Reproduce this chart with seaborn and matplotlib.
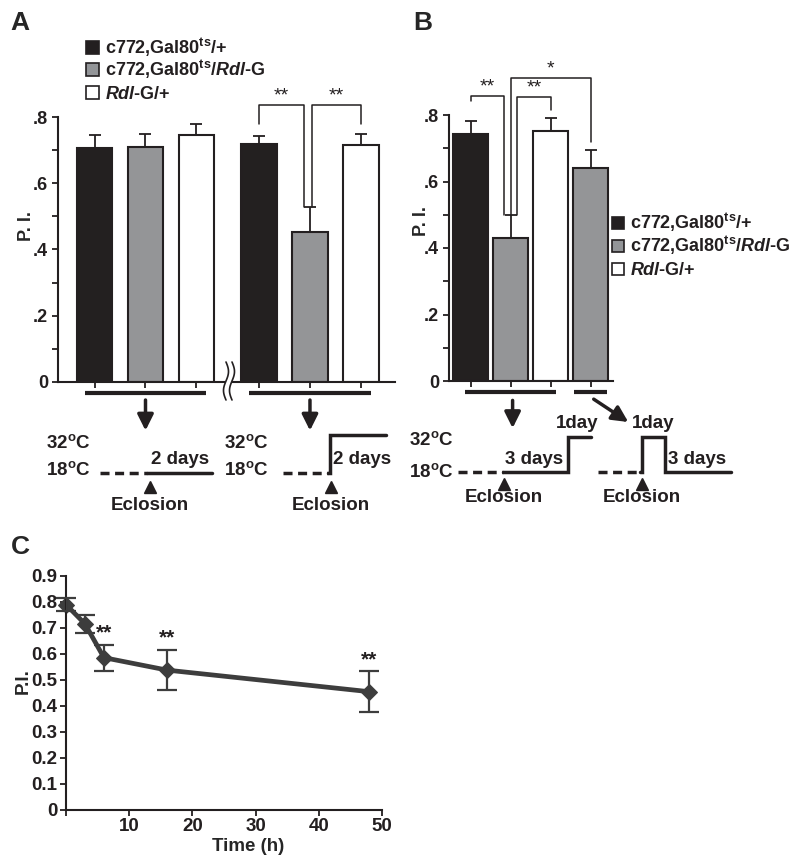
import numpy as np
import pandas as pd
import matplotlib
matplotlib.use("Agg")
import matplotlib.pyplot as plt
from matplotlib.patches import Rectangle
import seaborn as sns

# ---- data ----
genotypes = ["c772,Gal80ts/+", "c772,Gal80ts/Rdl-G", "Rdl-G/+"]
genotype_labels = [r"c772,Gal80$^{\mathrm{ts}}$/+",
                   r"c772,Gal80$^{\mathrm{ts}}$/$\mathit{Rdl}$-G",
                   r"$\mathit{Rdl}$-G/+"]

# panel A: 18C throughout vs shift to 32C for 2 days after eclosion
a_conditions = ["18C", "32C 2 days"]
a_pi = [0.705, 0.708, 0.745, 0.720, 0.454, 0.715]
a_sem = [0.042, 0.040, 0.035, 0.022, 0.073, 0.033]

# panel B: 3 days at 18C then 1 day 32C / 1 day 32C then 3 days 18C
b_labels = ["3d+1d ctrl", "3d+1d exp", "3d+1d rdl", "1d+3d exp"]
b_genotype = [genotypes[0], genotypes[1], genotypes[2], genotypes[1]]
b_pi = [0.743, 0.430, 0.752, 0.640]
b_sem = [0.039, 0.070, 0.039, 0.055]

# panel C: time course
c_time = [0, 3, 6, 16, 48]
c_pi = [0.790, 0.716, 0.586, 0.538, 0.455]
c_sem = [0.025, 0.035, 0.050, 0.078, 0.078]
c_sig = ["", "", "**", "**", "**"]

EDGE = "#231f20"
bar_colors = ["#231f20", "#939598", "#ffffff"]
LINE = "#3d3d3d"

sns.set_style("ticks")
plt.rcParams["font.family"] = ["Liberation Sans", "DejaVu Sans"]
plt.rcParams["font.weight"] = "bold"
plt.rcParams["mathtext.fontset"] = "custom"
plt.rcParams["mathtext.rm"] = "Liberation Sans:bold"
plt.rcParams["mathtext.it"] = "Liberation Sans:bold:italic"
plt.rcParams["mathtext.bf"] = "Liberation Sans:bold"
plt.rcParams["axes.edgecolor"] = EDGE
plt.rcParams["axes.linewidth"] = 1.5
plt.rcParams["xtick.color"] = EDGE
plt.rcParams["ytick.color"] = EDGE

W, H = 800, 860
fig = plt.figure(figsize=(W / 100, H / 100), dpi=100)


def axes_px(left, right, top, bottom):
    return fig.add_axes([left / W, 1 - bottom / H, (right - left) / W, (bottom - top) / H])


def style_bar_axes(ax, centers):
    sns.despine(ax=ax)
    ax.set_xticks(sorted(centers))
    ax.set_xticklabels([])
    ax.set_yticks([0, 0.2, 0.4, 0.6, 0.8], ["0", ".2", ".4", ".6", ".8"])
    ax.set_yticks([0.1, 0.3, 0.5, 0.7], minor=True)
    ax.tick_params(axis="both", which="both", length=4, width=1.3, labelsize=13, pad=3)
    ax.set_xlabel("")
    ax.set_ylabel("P. I.", fontsize=13, fontweight="bold")
    ax.set_ylim(0, 0.8)


def bracket(ax, x1, x2, top, y1, y2, text):
    ax.plot([x1, x1, x2, x2], [y1, top, top, y2], color=EDGE, lw=1.1, clip_on=False)
    ax.text((x1 + x2) / 2, top + 0.003, text, ha="center", va="bottom",
            fontsize=14, fontweight="normal", color=EDGE)


# ---------------- panel A ----------------
axA = axes_px(58, 395, 117, 382)
dfA = pd.DataFrame({"condition": np.repeat(a_conditions, 3),
                    "genotype": genotypes * 2, "pi": a_pi, "err": a_sem})
sns.barplot(data=dfA, x="condition", y="pi", hue="genotype", hue_order=genotypes,
            palette=bar_colors, width=0.93, gap=0.31, edgecolor=EDGE, linewidth=1.5,
            errorbar=None, legend=False, ax=axA)
centA = {}
for gi, cont in enumerate(axA.containers):
    for ci, bar in enumerate(cont):
        centA[(a_conditions[ci], genotypes[gi])] = bar.get_x() + bar.get_width() / 2
top_of = {}
for _, r in dfA.iterrows():
    key = (r["condition"], r["genotype"])
    top_of[key] = r["pi"] + r["err"]
    axA.errorbar(centA[key], r["pi"], yerr=[[0], [r["err"]]], fmt="none",
                 ecolor=EDGE, elinewidth=1.3, capsize=4, capthick=1.3, zorder=3)
axA.set_xlim(-0.532, 1.517)
style_bar_axes(axA, centA.values())
axA.yaxis.set_label_coords(-0.068, 0.59)

k4, k5, k6 = [(a_conditions[1], g) for g in genotypes]
bracket(axA, centA[k4], centA[k5] - 0.036, 0.836, top_of[k4] + 0.037, top_of[k5], "**")
bracket(axA, centA[k5] + 0.012, centA[k6], 0.836, top_of[k5], top_of[k6] + 0.03, "**")

for gx in range(len(a_conditions)):
    axA.plot([gx - 0.37, gx + 0.37], [-0.034, -0.034], color=EDGE, lw=3, clip_on=False,
             solid_capstyle="butt")
    axA.annotate("", xy=(gx, -0.155), xytext=(gx, -0.046), annotation_clip=False,
                 arrowprops=dict(arrowstyle="-|>", color=EDGE, lw=2.5, mutation_scale=24))

# ---------------- panel B ----------------
axB = axes_px(449, 613, 115, 381)
dfB = pd.DataFrame({"label": b_labels, "genotype": b_genotype, "pi": b_pi, "err": b_sem})
sns.barplot(data=dfB, x="label", y="pi", hue="genotype", hue_order=genotypes,
            palette=bar_colors, dodge=False, width=0.875, edgecolor=EDGE, linewidth=1.5,
            errorbar=None, legend=False, ax=axB)
centB = {}
for bar in axB.patches:
    c = bar.get_x() + bar.get_width() / 2
    if bar.get_height() > 0:
        centB[int(round(c))] = c
for i, r in dfB.iterrows():
    axB.errorbar(centB[i], r["pi"], yerr=[[0], [r["err"]]], fmt="none",
                 ecolor=EDGE, elinewidth=1.3, capsize=4, capthick=1.3, zorder=3)
axB.set_xlim(-0.54, 3.56)
style_bar_axes(axB, centB.values())
axB.yaxis.set_label_coords(-0.116, 0.6)

topB = [p + s for p, s in zip(b_pi, b_sem)]
bracket(axB, centB[0], centB[1] - 0.16, 0.857, topB[0] + 0.06, topB[1], "**")
bracket(axB, centB[1] + 0.16, centB[2], 0.854, topB[1], topB[2] + 0.025, "**")
bracket(axB, centB[1] + 0.01, centB[3], 0.911, topB[1], topB[3] + 0.024, "*")

axB.plot([-0.14, 2.14], [-0.033, -0.033], color=EDGE, lw=3, clip_on=False, solid_capstyle="butt")
axB.plot([2.59, 3.41], [-0.033, -0.033], color=EDGE, lw=3, clip_on=False, solid_capstyle="butt")
axB.annotate("", xy=(1.05, -0.15), xytext=(1.05, -0.05), annotation_clip=False,
             arrowprops=dict(arrowstyle="-|>", color=EDGE, lw=2.5, mutation_scale=24))
axB.annotate("", xy=(4.0, -0.128), xytext=(3.02, -0.05), annotation_clip=False,
             arrowprops=dict(arrowstyle="-|>", color=EDGE, lw=2.5, mutation_scale=24))

# ---------------- panel C ----------------
axC = axes_px(66, 382, 576, 810)
sns.lineplot(x=c_time, y=c_pi, marker="D", markersize=8.5, color=LINE, linewidth=3.4,
             markeredgecolor=LINE, ax=axC)
axC.errorbar(c_time, c_pi, yerr=c_sem, fmt="none", ecolor=LINE, elinewidth=1.6,
             capsize=7, capthick=1.6, zorder=3)
for ln in axC.lines:
    ln.set_clip_on(False)
for t, p, s, sig in zip(c_time, c_pi, c_sem, c_sig):
    if sig:
        axC.text(t, p + s + 0.008, sig, ha="center", va="bottom", fontsize=15,
                 fontweight="bold", color=EDGE)
axC.set_xlim(0, 50)
axC.set_ylim(0, 0.9)
axC.set_xticks([0, 10, 20, 30, 40, 50], ["", "10", "20", "30", "40", "50"])
axC.set_yticks(np.round(np.arange(0, 0.95, 0.1), 1),
               ["0"] + [f"{v:.1f}" for v in np.arange(0.1, 0.95, 0.1)])
axC.tick_params(axis="both", length=4, width=1.3, labelsize=13.5, pad=2)
sns.despine(ax=axC)
axC.set_xlabel("Time (h)", fontsize=13.5, fontweight="bold")
axC.set_ylabel("P.I.", fontsize=13.5, fontweight="bold")
axC.xaxis.set_label_coords(0.576, -0.118)
axC.yaxis.set_label_coords(-0.108, 0.55)

# ---------------- overlay: letters, legends, schematics ----------------
ov = fig.add_axes([0, 0, 1, 1], zorder=5)
ov.set_xlim(0, W)
ov.set_ylim(H, 0)
ov.axis("off")
ov.patch.set_alpha(0)

for letter, x, y in [("A", 20, 23), ("B", 423, 23), ("C", 20, 547)]:
    ov.text(x, y, letter, ha="center", va="center", fontsize=19, fontweight="bold")


def legend_px(x0, baselines, size):
    for lab, col, yb in zip(genotype_labels, bar_colors, baselines):
        ov.add_patch(Rectangle((x0, yb - size), size, size, facecolor=col,
                               edgecolor=EDGE, lw=1.2))
        ov.text(x0 + size + 6, yb, lab, ha="left", va="baseline", fontsize=13,
                fontweight="bold", color=EDGE)


legend_px(86, [54, 76, 99], 13)
legend_px(612, [229, 252, 275], 12)

# axis break marks in panel A
tt = np.linspace(0, 1, 30)
ov.add_patch(Rectangle((226, 379), 6, 6, facecolor="white", edgecolor="none", zorder=6))
for x0 in (226, 232):
    ov.plot(x0 + 2.5 * np.sin(tt * 2 * np.pi), 362 + 38 * tt, color=EDGE, lw=1.2, zorder=7)

TXT = dict(fontsize=13.5, fontweight="bold", color=EDGE)


def temps(xr, y32, y18):
    ov.text(xr, y32, r"32$^{\mathrm{o}}$C", ha="right", va="center", **TXT)
    ov.text(xr, y18, r"18$^{\mathrm{o}}$C", ha="right", va="center", **TXT)


def eclosion(x, ytri, ytext):
    ov.plot([x], [ytri], marker="^", ms=9, color=EDGE)
    ov.text(x, ytext, "Eclosion", ha="center", va="center", **TXT)


dash = dict(color=EDGE, lw=2.5, ls=(0, (2.6, 1.6)))
solid = dict(color=EDGE, lw=2.5, solid_joinstyle="miter")

# A, 18C only
temps(91, 443, 470)
ov.plot([100, 147], [473, 473], **dash)
ov.plot([147, 212], [473, 473], **solid)
ov.text(180, 459, "2 days", ha="center", va="center", **TXT)
eclosion(150, 487, 506)
# A, shift to 32C
temps(269, 443, 470)
ov.plot([283, 328], [473, 473], **dash)
ov.plot([328, 330, 330, 386], [473, 473, 435, 435], **solid)
ov.text(362, 459, "2 days", ha="center", va="center", **TXT)
eclosion(331, 487, 506)
# B, 3 days then 1 day
temps(454, 440, 472)
ov.plot([458, 503], [472, 472], **dash)
ov.plot([503, 568, 568, 591], [472, 472, 437, 437], **solid)
ov.text(534, 460, "3 days", ha="center", va="center", **TXT)
ov.text(577, 424, "1day", ha="center", va="center", **TXT)
eclosion(504, 484, 498)
# B, 1 day then 3 days
ov.plot([598, 640], [472, 472], **dash)
ov.plot([640, 642, 642, 665, 665, 731], [472, 472, 437, 437, 472, 472], **solid)
ov.text(653, 424, "1day", ha="center", va="center", **TXT)
ov.text(697, 460, "3 days", ha="center", va="center", **TXT)
eclosion(642, 484, 498)

fig.savefig("out.png", dpi=100)
